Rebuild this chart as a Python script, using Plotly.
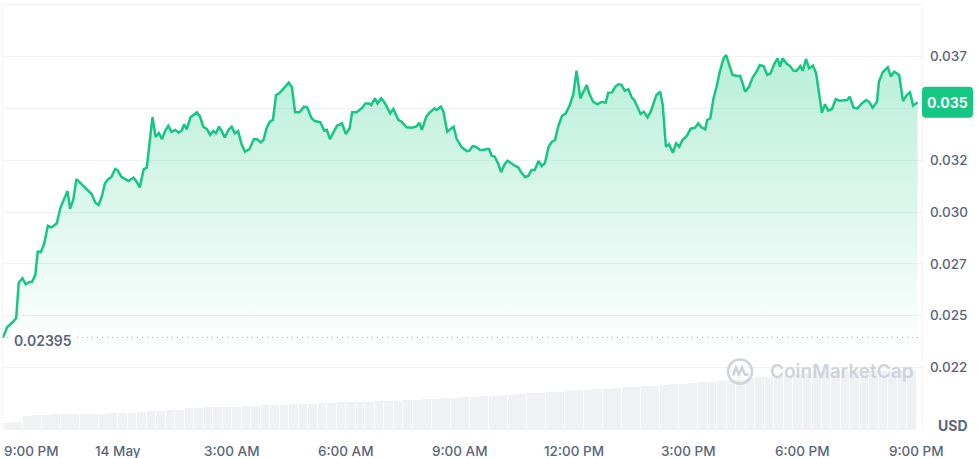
import pandas as pd
import plotly.graph_objects as go

# ---------------- data ----------------
START = "2024-05-13 21:00"
# minutes after 13 May 9:00 PM
minutes = [-1, 6, 15, 20, 24, 30, 35, 41, 45, 50, 54, 59, 64, 70, 76, 84, 90, 96, 101, 105,
           110, 115, 123, 131, 139, 145, 150, 155, 160, 165, 170, 176, 180, 186, 197, 205, 210, 215, 221, 226,
           230, 235, 240, 245, 250, 255, 260, 265, 271, 276, 281, 285, 289, 295, 305, 310, 315, 321, 326, 331,
           335, 340, 344, 349, 355, 360, 365, 370, 376, 381, 388, 395, 400, 406, 410, 415, 420, 425, 430, 435,
           441, 450, 455, 460, 467, 474, 479, 486, 491, 500, 506, 510, 515, 526, 534, 540, 546, 550, 557, 565,
           571, 577, 580, 586, 590, 596, 602, 610, 615, 623, 628, 636, 644, 651, 656, 660, 667, 672, 680, 683,
           690, 694, 700, 710, 715, 723, 731, 735, 740, 745, 752, 757, 762, 766, 770, 775, 781, 785, 790, 795,
           801, 807, 812, 817, 823, 828, 833, 838, 844, 849, 854, 860, 865, 870, 875, 881, 887, 893, 899, 904,
           910, 914, 920, 924, 930, 937, 944, 950, 954, 960, 965, 970, 975, 980, 986, 991, 995, 1000, 1005, 1010,
           1016, 1021, 1026, 1030, 1036, 1040, 1045, 1050, 1056, 1061, 1066, 1071, 1078, 1084, 1091, 1096, 1101, 1107, 1110, 1115,
           1120, 1125, 1130, 1136, 1140, 1145, 1150, 1158, 1162, 1166, 1170, 1176, 1182, 1188, 1193, 1199, 1205, 1210, 1216, 1221,
           1225, 1229, 1236, 1241, 1246, 1251, 1257, 1261, 1266, 1271, 1277, 1282, 1285, 1291, 1296, 1301, 1307, 1313, 1319, 1325,
           1331, 1335, 1341, 1347, 1354, 1361, 1366, 1371, 1378, 1381, 1387, 1395, 1400, 1405, 1413, 1419, 1425, 1430, 1435, 1442]
prices = [0.02395, 0.02446, 0.02471, 0.02489, 0.02659, 0.02681, 0.02652, 0.02663, 0.02664, 0.02696,
          0.02809, 0.02807, 0.02846, 0.02934, 0.02926, 0.02946, 0.03023, 0.03066, 0.03101, 0.03016,
          0.03058, 0.03159, 0.03135, 0.03110, 0.03087, 0.03045, 0.03034, 0.03074, 0.03139, 0.03158,
          0.03168, 0.03208, 0.03201, 0.03170, 0.03150, 0.03166, 0.03146, 0.03119, 0.03206, 0.03214,
          0.03331, 0.03458, 0.03362, 0.03381, 0.03352, 0.03392, 0.03416, 0.03387, 0.03396, 0.03383,
          0.03392, 0.03423, 0.03399, 0.03457, 0.03481, 0.03460, 0.03412, 0.03400, 0.03372, 0.03391,
          0.03380, 0.03412, 0.03392, 0.03360, 0.03396, 0.03412, 0.03380, 0.03391, 0.03323, 0.03291,
          0.03303, 0.03352, 0.03351, 0.03336, 0.03347, 0.03404, 0.03436, 0.03444, 0.03564, 0.03573,
          0.03593, 0.03624, 0.03602, 0.03481, 0.03481, 0.03508, 0.03505, 0.03452, 0.03439, 0.03433,
          0.03392, 0.03396, 0.03352, 0.03416, 0.03428, 0.03376, 0.03404, 0.03481, 0.03481, 0.03500,
          0.03524, 0.03524, 0.03516, 0.03548, 0.03524, 0.03548, 0.03524, 0.03476, 0.03497, 0.03444,
          0.03436, 0.03409, 0.03407, 0.03412, 0.03431, 0.03396, 0.03460, 0.03479, 0.03500, 0.03492,
          0.03508, 0.03484, 0.03387, 0.03412, 0.03352, 0.03312, 0.03294, 0.03296, 0.03318, 0.03315,
          0.03299, 0.03299, 0.03304, 0.03304, 0.03272, 0.03267, 0.03230, 0.03192, 0.03227, 0.03248,
          0.03235, 0.03222, 0.03216, 0.03190, 0.03168, 0.03175, 0.03203, 0.03203, 0.03246, 0.03222,
          0.03235, 0.03315, 0.03339, 0.03347, 0.03412, 0.03463, 0.03476, 0.03513, 0.03568, 0.03682,
          0.03548, 0.03573, 0.03613, 0.03573, 0.03532, 0.03520, 0.03532, 0.03527, 0.03576, 0.03577,
          0.03604, 0.03616, 0.03613, 0.03585, 0.03592, 0.03553, 0.03540, 0.03508, 0.03473, 0.03484,
          0.03457, 0.03484, 0.03527, 0.03564, 0.03580, 0.03516, 0.03315, 0.03327, 0.03286, 0.03331,
          0.03315, 0.03347, 0.03367, 0.03402, 0.03407, 0.03428, 0.03409, 0.03399, 0.03444, 0.03452,
          0.03548, 0.03604, 0.03677, 0.03741, 0.03757, 0.03709, 0.03661, 0.03656, 0.03657, 0.03621,
          0.03580, 0.03604, 0.03650, 0.03677, 0.03709, 0.03704, 0.03661, 0.03669, 0.03714, 0.03741,
          0.03701, 0.03741, 0.03714, 0.03704, 0.03682, 0.03680, 0.03704, 0.03682, 0.03738, 0.03693,
          0.03706, 0.03669, 0.03604, 0.03479, 0.03520, 0.03489, 0.03497, 0.03544, 0.03537, 0.03537,
          0.03540, 0.03556, 0.03503, 0.03500, 0.03524, 0.03540, 0.03529, 0.03503, 0.03532, 0.03628,
          0.03674, 0.03698, 0.03653, 0.03677, 0.03661, 0.03535, 0.03564, 0.03577, 0.03513, 0.03529]

# volume bars (15-minute buckets, arbitrary units)
volume = [0.12, 0.13, 0.24, 0.25, 0.25, 0.26, 0.26, 0.26, 0.27, 0.27,
          0.27, 0.28, 0.28, 0.29, 0.30, 0.31, 0.32, 0.33, 0.34, 0.36,
          0.37, 0.38, 0.38, 0.39, 0.39, 0.40, 0.40, 0.41, 0.42, 0.42,
          0.43, 0.44, 0.44, 0.45, 0.45, 0.46, 0.46, 0.47, 0.47, 0.48,
          0.49, 0.49, 0.50, 0.50, 0.51, 0.52, 0.53, 0.54, 0.55, 0.55,
          0.56, 0.57, 0.58, 0.59, 0.60, 0.61, 0.62, 0.63, 0.64, 0.65,
          0.66, 0.67, 0.68, 0.69, 0.70, 0.71, 0.72, 0.73, 0.74, 0.75,
          0.76, 0.77, 0.78, 0.80, 0.80, 0.82, 0.83, 0.84, 0.86, 0.88,
          0.89, 0.90, 0.92, 0.93, 0.95, 0.96, 0.97, 0.97, 0.98, 0.98,
          0.98, 0.98, 0.99, 0.99, 0.99, 1.00]

open_price = 0.02395
open_label = "0.02395"
price_label = "0.035"

ytick_vals = [0.0225, 0.025, 0.0275, 0.030, 0.0325, 0.035, 0.0375, 0.040]
ytick_text = ["0.022", "0.025", "0.027", "0.030", "0.032", "", "0.037", ""]

xtick_hours = [0, 3, 6, 9, 12, 15, 18, 21, 24]
xtick_text = ["9:00 PM", "14 May", "3:00 AM", "6:00 AM", "9:00 AM",
              "12:00 PM", "3:00 PM", "6:00 PM", "9:00 PM"]

# ---------------- build ----------------
start = pd.Timestamp(START)
times = [start + pd.Timedelta(minutes=m) for m in minutes]
vol_times = [start + pd.Timedelta(minutes=7.5 + 15 * i) for i in range(len(volume))]
tick_times = [start + pd.Timedelta(hours=h) for h in xtick_hours]

GREEN = "#16c784"
LABEL = "#58667e"
GRID = "#eff2f5"
FONT = "Inter, Roboto, sans-serif"

fig = go.Figure()

fig.add_trace(go.Bar(
    x=vol_times, y=volume, yaxis="y2",
    marker=dict(color="#eff1f5", line=dict(width=0)),
    width=15 * 60 * 1000 * 0.92, hoverinfo="skip", showlegend=False,
))

fig.add_trace(go.Scatter(
    x=times, y=prices, mode="lines",
    line=dict(color=GREEN, width=2.5, shape="linear"),
    fill="tozeroy",
    fillgradient=dict(type="vertical",
                      colorscale=[[0, "rgba(22,199,132,0)"], [1, "rgba(22,199,132,0.30)"]],
                      start=0.0232, stop=0.0376),
    showlegend=False,
))

shapes = [
    # open-price dotted line
    dict(type="line", xref="paper", x0=0, x1=1, yref="y", y0=open_price, y1=open_price,
         line=dict(color="#a6afc2", width=1.2, dash="1px,4px"), layer="above"),
    # left / right borders
    dict(type="line", xref="paper", x0=0, x1=0, yref="paper", y0=0, y1=1,
         line=dict(color=GRID, width=1)),
    dict(type="line", xref="paper", x0=1, x1=1, yref="paper", y0=0, y1=1,
         line=dict(color=GRID, width=1)),
    # current price box
    dict(type="path", xref="paper", xsizemode="pixel", xanchor=1,
         yref="y", ysizemode="pixel", yanchor=prices[-1],
         path="M 4,-15.5 L 47,-15.5 Q 51,-15.5 51,-11.5 L 51,11.5 Q 51,15.5 47,15.5 "
              "L 4,15.5 Q 0,15.5 0,11.5 L 0,-11.5 Q 0,-15.5 4,-15.5 Z",
         fillcolor=GREEN, line=dict(width=0), layer="above"),
    # watermark logo
    dict(type="circle", xref="paper", xsizemode="pixel", xanchor=0.80217,
         yref="paper", ysizemode="pixel", yanchor=0.1370,
         x0=-12, x1=12, y0=-12, y1=12, line=dict(color="#cfd3db", width=2.6), layer="above"),
    dict(type="path", xref="paper", xsizemode="pixel", xanchor=0.80217,
         yref="paper", ysizemode="pixel", yanchor=0.1370,
         path="M -7,-4 L -4,4 L -1,-3 L 2,4 L 4.5,-2 Q 6,-5 8,-2",
         line=dict(color="#cfd3db", width=2.6), layer="above"),
]

annotations = [
    dict(text=open_label, xref="paper", x=0.0087, xanchor="left", yref="y", y=open_price,
         yanchor="middle", yshift=-2.5, showarrow=False, bgcolor="white", borderpad=3,
         font=dict(family=FONT, size=14, color=LABEL, weight=600)),
    dict(text=price_label, xref="paper", x=1, xanchor="center", xshift=25.5, yref="y", y=prices[-1],
         yanchor="middle", showarrow=False,
         font=dict(family=FONT, size=14, color="white", weight=700)),
    dict(text="USD", xref="paper", x=1, xanchor="left", xshift=14, yref="paper", y=0.0117,
         yanchor="middle", showarrow=False,
         font=dict(family=FONT, size=14, color=LABEL, weight=700)),
    dict(text="CoinMarketCap", xref="paper", x=0.8326, xanchor="left", yref="paper", y=0.1370,
         yanchor="middle", showarrow=False,
         font=dict(family=FONT, size=19, color="#cfd3db", weight=600)),
]
for i, (t, s) in enumerate(zip(tick_times, xtick_text)):
    if i == 0:
        annotations.append(dict(text=s, xref="paper", x=0, xanchor="left", yref="paper", y=-0.049,
                                yanchor="middle", showarrow=False,
                                font=dict(family=FONT, size=13.5, color=LABEL, weight=500)))
    else:
        annotations.append(dict(text=s, xref="x", x=t, xanchor="center", yref="paper", y=-0.049,
                                yanchor="middle", showarrow=False,
                                font=dict(family=FONT, size=13.5, color=LABEL, weight=500)))

fig.update_layout(
    width=978, height=458,
    margin=dict(l=2, r=56, t=3, b=28),
    paper_bgcolor="white", plot_bgcolor="white",
    bargap=0,
    xaxis=dict(type="date",
               range=[start - pd.Timedelta(minutes=2.4), start + pd.Timedelta(minutes=1449)],
               showgrid=False, showticklabels=False, zeroline=False, showline=False, ticks=""),
    yaxis=dict(side="right", range=[0.019491, 0.04008],
               tickmode="array", tickvals=ytick_vals, ticktext=ytick_text,
               showgrid=True, gridcolor=GRID, gridwidth=1, zeroline=False, showline=False,
               ticks="", ticklabelstandoff=7,
               tickfont=dict(family=FONT, size=13.5, color=LABEL, weight=500)),
    yaxis2=dict(overlaying="y", range=[0, 7.117], visible=False),
    shapes=shapes, annotations=annotations,
)

fig.write_html("out.html", config={"displayModeBar": False},
               post_script="document.body.style.margin='0';document.body.style.overflow='hidden';")
